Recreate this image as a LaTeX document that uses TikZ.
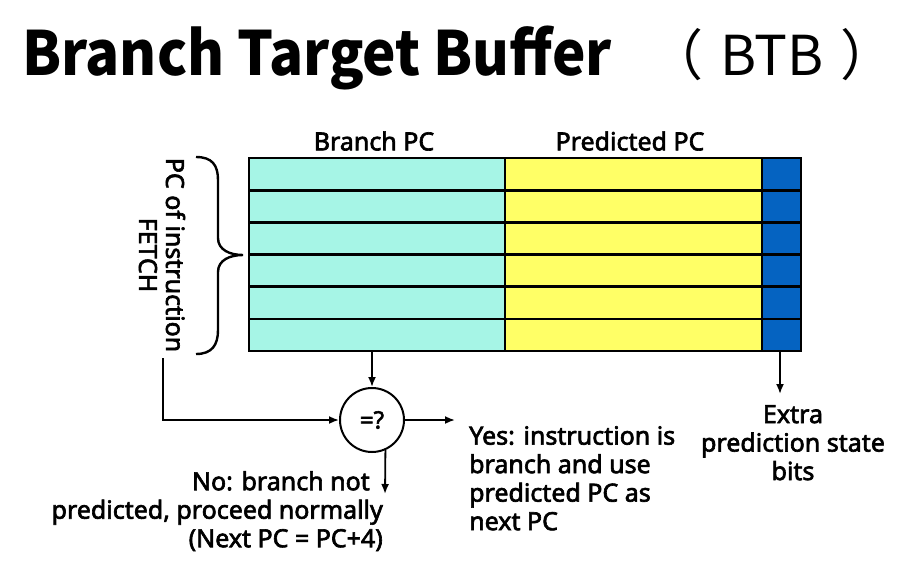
\documentclass[tikz,border=0pt]{standalone}
\usepackage{fontspec}
\setmainfont{Noto Sans}
\newfontfamily\bodyf{Noto Sans}[FakeBold=2.5]
\newfontfamily\cjk{Noto Sans CJK SC}
\usetikzlibrary{arrows.meta}
\definecolor{cyanc}{HTML}{A6F5E6}
\definecolor{yelc}{HTML}{FFFF66}
\definecolor{bluec}{HTML}{0563C1}
\tikzset{
  tl/.style={line width=2.6pt, line cap=rect},
  arr/.style={line width=1.8pt, -{Latex[length=10pt,width=8pt]}},
  lbl/.style={inner sep=0pt, font=\bodyf\fontsize{25}{28.5}\selectfont},
}
\begin{document}
\begin{tikzpicture}[x=1pt,y=-1pt]
\useasboundingbox (0,0) rectangle (913,581);
% title
\node[inner sep=0pt, anchor=base west, font=\cjk\bfseries\fontsize{61}{70}\selectfont] (title) at (22,75) {\scalebox{0.925}[1]{Branch Target Buffer}};
\node[inner sep=0pt, anchor=base west, font=\cjk\fontsize{55}{60}\selectfont] (btb) at (648,75) {（\hspace{17pt}BTB\hspace{17pt}）};
% table
\fill[cyanc] (249,158) rectangle (505,351);
\fill[yelc] (505,158) rectangle (762,351);
\fill[bluec] (762,158) rectangle (801,351);
\foreach \y in {190.2,222.3,254.5,286.7,318.8} \draw[tl] (249,\y) -- (801,\y);
\draw[tl] (505,158) -- (505,351);
\draw[tl] (762,158) -- (762,351);
\draw[tl] (249,158) rectangle (801,351);
% headers
\node[lbl] (hbpc) at (374,141) {Branch PC};
\node[lbl] (hppc) at (630,141) {Predicted PC};
% brace
\draw[line width=2.4pt] (196,157) .. controls (212,157) and (218,165) .. (218,180) -- (218,238)
  .. controls (218,250) and (230,255) .. (243,255)
  .. controls (230,255) and (218,260) .. (218,272) -- (218,330)
  .. controls (218,345) and (212,354) .. (196,354);
\node[inner sep=0pt, font=\bodyf\fontsize{25}{27}\selectfont, rotate=-90, align=center] (fetch) at (162,255) {PC of instruction\\FETCH};
% comparator
\node[circle, draw, line width=2pt, minimum size=64pt, inner sep=0pt, font=\bodyf\fontsize{24}{28}\selectfont] (cmp) at (372,420) {=?};
\coordinate (bpc) at (372,351);
\coordinate (ebits) at (780,351);
\coordinate (fetchtop) at (163,358);
\coordinate (bend) at (163,420);
\coordinate (yesend) at (455,420);
\coordinate (noend) at (385,494);
\coordinate (extraend) at (780,394);
\draw[arr] (bpc) -- (cmp);
\draw[arr] (fetchtop) -- (bend) -- (cmp);
\draw[arr] (cmp) -- (yesend);
\draw[arr] (cmp.-66) -- (noend);
\draw[arr] (ebits) -- (extraend);
% labels
\node[lbl, align=left, anchor=north west] (yes) at (469,426) {Yes: instruction is\\branch and use\\predicted PC as\\next PC};
\node[lbl, align=right, anchor=north east] (no) at (383,471) {No: branch not\hspace*{13pt}\\predicted, proceed normally\\(Next PC = PC+4)};
\node[lbl, align=center, anchor=north] (extra) at (793,405) {Extra\\prediction state\\bits};
\end{tikzpicture}
\end{document}
